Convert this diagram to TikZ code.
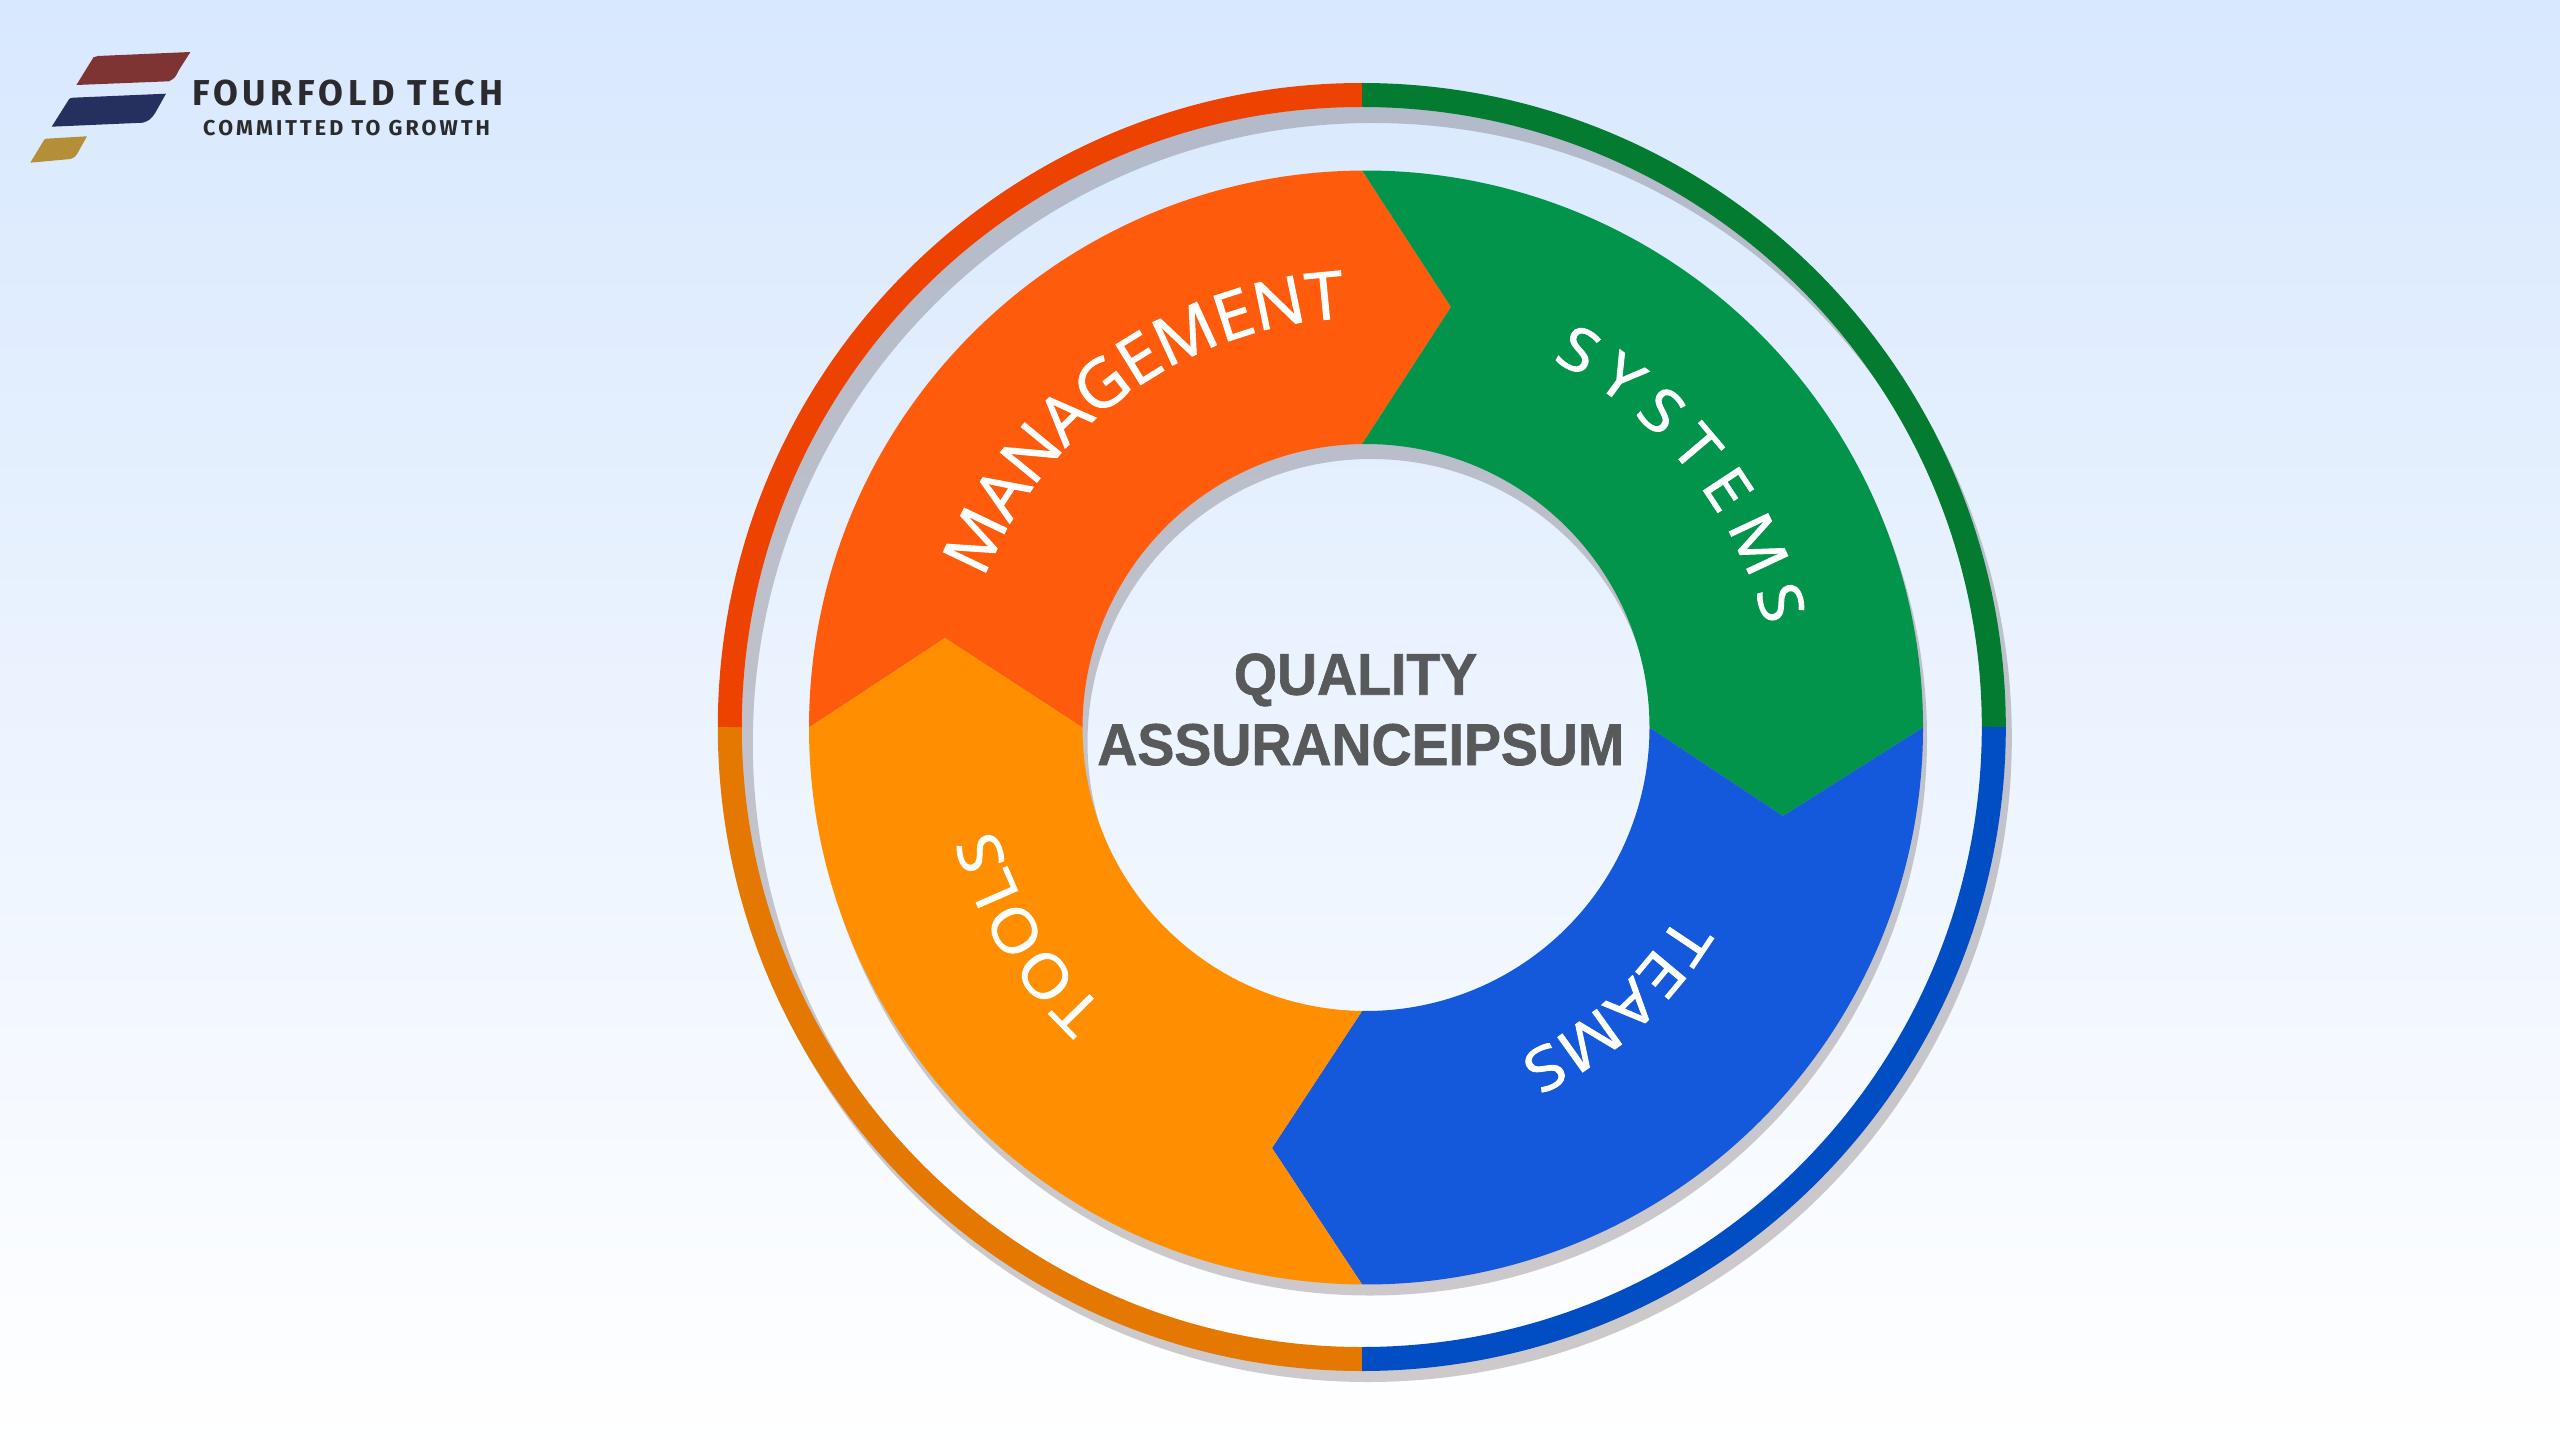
\documentclass[tikz,border=0pt]{standalone}
\usepackage{fontspec}
\usetikzlibrary{decorations.text}
\setmainfont{Liberation Sans}
\newfontfamily\titlef[BoldFeatures={FakeBold=1.2}]{Liberation Sans}
\newfontfamily\labelm[FakeStretch=1.04,FakeBold=1.5]{Open Sans}
\newfontfamily\labelf[FakeStretch=1.1,FakeBold=1.5]{Open Sans}
\newfontfamily\labelw[FakeStretch=1.13,FakeBold=1.5]{Open Sans}
\newfontfamily\logoA[LetterSpace=12.5]{Fira Sans}
\newfontfamily\logoB[LetterSpace=14.5]{Fira Sans}
\newcommand\lblbig{\labelm\fontsize{66}{66}\selectfont}
\newcommand\lblmid{\labelf\fontsize{60}{60}\selectfont}
\newcommand\lblwide{\labelw\fontsize{60}{60}\selectfont}
\definecolor{bgtop}{HTML}{D8E8FE}
\definecolor{shadowc}{HTML}{291313}
\definecolor{pRed}{HTML}{FE5C0C}
\definecolor{pGreen}{HTML}{03944C}
\definecolor{pBlue}{HTML}{1458DB}
\definecolor{pOrange}{HTML}{FF8F00}
\definecolor{rRed}{HTML}{EE4200}
\definecolor{rGreen}{HTML}{037B31}
\definecolor{rBlue}{HTML}{014DC3}
\definecolor{rOrange}{HTML}{E47800}
\definecolor{titlec}{HTML}{58595B}
\definecolor{logoc}{HTML}{2B2B2D}
\definecolor{barRed}{HTML}{7E3432}
\definecolor{barNavy}{HTML}{26305F}
\definecolor{barGold}{HTML}{B58F37}
\tikzset{
  ringseg/.style={line width=24pt},
  shade layer/.style={fill=shadowc,fill opacity=.22,even odd rule},
  title text/.style={inner sep=0pt,anchor=base,text=titlec,font=\titlef\bfseries\fontsize{59}{59}\selectfont,xscale=.94,transform shape},
  logo text/.style={inner sep=0pt,anchor=base west,text=logoc},
  curved/.style={decorate,decoration={text along path,text color=white,text align=fit to path,#1}}
}
\begin{document}
\begin{tikzpicture}[x=1pt,y=1pt]
\useasboundingbox (0,0) rectangle (2560,-1455);
\shade[top color=bgtop,bottom color=white] (0,0) rectangle (2560,-1455);

% logo
\fill[barRed] (76.4,-85) -- (93.5,-57.3) .. controls (95,-56.3) .. (98,-56) -- (190.4,-52) -- (179,-70) .. controls (175,-78) .. (169,-81.3) -- cycle;
\fill[barNavy] (51.7,-126.7) -- (69,-99.3) .. controls (70,-98.2) .. (73,-97.7) -- (166,-93.7) -- (155,-113.3) .. controls (150,-120) .. (143,-122.7) -- cycle;
\fill[barGold] (30.3,-162.7) -- (43,-141.7) .. controls (44,-139.5) .. (46.5,-138.7) -- (87,-136.3) -- (77.5,-153.3) .. controls (75,-157) .. (70.6,-159) -- cycle;
\node[logo text] (brand) at (192,-106) {\logoA\bfseries\fontsize{36}{36}\selectfont FOURFOLD TECH};
\node[logo text] (motto) at (203,-135.7) {\logoB\bfseries\fontsize{21.5}{22}\selectfont COMMITTED TO GROWTH};

% shadows
\fill[shade layer] (1367.8,-738) circle[radius=644] (1372.8,-743) circle[radius=620];
\fill[shade layer] (1370,-738.5) circle[radius=557] (1371,-742.5) circle[radius=283.5];

% outer ring
\begin{scope}[shift={(1361.8,-727)}]
\draw[ringseg,rGreen] (90:632) arc[start angle=90,end angle=0,radius=632];
\draw[ringseg,rBlue] (0:632) arc[start angle=0,end angle=-90,radius=632];
\draw[ringseg,rOrange] (-90:632) arc[start angle=-90,end angle=-180,radius=632];
\draw[ringseg,rRed] (180:632) arc[start angle=180,end angle=90,radius=632];
\end{scope}

% donut pieces
\begin{scope}[shift={(1366,-727.5)}]
\coordinate (tipT) at (85,420.5);
\coordinate (tipR) at (417,-88.5);
\coordinate (tipB) at (-94,-420.5);
\coordinate (tipL) at (-421,89.5);
\fill[pRed] (180:557) arc[start angle=180,end angle=90.4,radius=557] -- (tipT) -- (90.8:283.5) arc[start angle=90.8,end angle=180,radius=283.5] -- (tipL) -- cycle;
\fill[pGreen] (90.4:557) arc[start angle=90.4,end angle=0,radius=557] -- (tipR) -- (0:283.5) arc[start angle=0,end angle=90.8,radius=283.5] -- (tipT) -- cycle;
\fill[pBlue] (0:557) arc[start angle=0,end angle=-90.4,radius=557] -- (tipB) -- (-90.8:283.5) arc[start angle=-90.8,end angle=0,radius=283.5] -- (tipR) -- cycle;
\fill[pOrange] (-90.4:557) arc[start angle=-90.4,end angle=-180,radius=557] -- (tipL) -- (180:283.5) arc[start angle=180,end angle=269.2,radius=283.5] -- (tipB) -- cycle;

% curved labels
\path[curved={raise=-23.5pt,text={|\lblbig|MANAGEMENT}}] (158.5:433.5) arc[start angle=158.5,end angle=93,radius=433.5];
\path[curved={raise=-21.5pt,text={|\lblmid|SYSTEMS}}] (63:433.5) arc[start angle=63,end angle=14.4,radius=433.5];
\path[curved={raise=-21.5pt,text={|\lblwide|TEAMS}}] (-31:385) arc[start angle=-31,end angle=-65,radius=385];
\path[curved={raise=-21.5pt,text={|\lblmid|TOOLS}}] (-133:406) arc[start angle=-133,end angle=-164.5,radius=406];
\end{scope}

% centre title
\node[title text] (t1) at (1355.6,-694.7) {QUALITY};
\node[title text] (t2) at (1360.8,-765) {ASSURANCEIPSUM};
\end{tikzpicture}
\end{document}
